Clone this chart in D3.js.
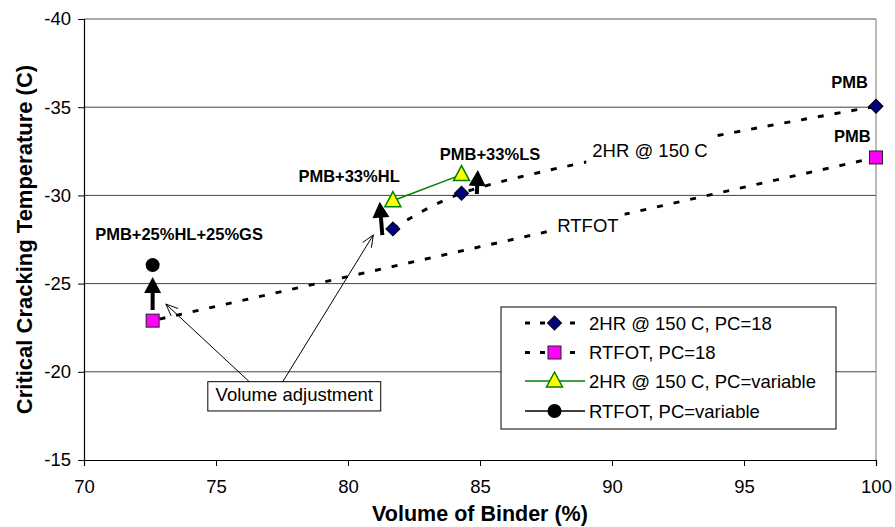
<!DOCTYPE html>
<html>
<head>
<meta charset="utf-8">
<script src="https://cdn.jsdelivr.net/npm/d3@7"></script>
<style>
  body { margin: 0; background: #fff; }
  svg { font-family: Arial, "Liberation Sans", sans-serif; }
</style>
</head>
<body>
<div id="chart"></div>
<script>
// values
const xTicks = [70, 75, 80, 85, 90, 95, 100];
const yTicks = [-40, -35, -30, -25, -20, -15];

// 2HR @ 150 C, PC=18
const hrX = [81.7, 84.3, 100];
const hrY = [-28.1, -30.12, -35.05];
// RTFOT, PC=18
const rtX = [72.6, 100];
const rtY = [-22.9, -32.15];
// 2HR @ 150 C, PC=variable
const hrVarX = [81.7, 84.3];
const hrVarY = [-29.7, -31.18];
// RTFOT, PC=variable
const rtVarX = [72.6];
const rtVarY = [-26.05];

const seriesNames = ["2HR @ 150 C, PC=18", "RTFOT, PC=18", "2HR @ 150 C, PC=variable", "RTFOT, PC=variable"];

// point labels (data coords)
const labelText = ["PMB+25%HL+25%GS", "PMB+33%HL", "PMB+33%LS", "PMB", "PMB"];
const labelX = [73.6, 80.04, 85.38, 99.0, 99.1];
const labelY = [-27.47, -30.78, -32.0, -36.09, -33.04];

// line labels
const lineLabelText = ["2HR @ 150 C", "RTFOT"];
const lineLabelX = [91.44, 89.09];
const lineLabelY = [-32.2, -27.94];

// block arrows (volume adjustment), from -> to
const arrowX0 = [72.6, 81.3, 84.88];
const arrowY0 = [-23.5, -27.75, -30.08];
const arrowX1 = [72.6, 81.2, 84.92];
const arrowY1 = [-25.37, -29.64, -31.44];

// callout pointers
const calloutX0 = [76.26, 77.53];
const calloutX1 = [73.1, 80.96];
const calloutY1 = [-23.84, -27.76];

const svg = d3.select("#chart").append("svg")
    .attr("width", 895)
    .attr("height", 527);

const margin = {top: 19, right: 19, bottom: 67, left: 84},
    width = 895 - margin.left - margin.right,
    height = 527 - margin.top - margin.bottom;

const x = d3.scaleLinear().domain([70, 100]).range([0, width]);
const y = d3.scaleLinear().domain([-40, -15]).range([0, height]);

const g = svg.append("g")
    .attr("transform", "translate(" + margin.left + "," + margin.top + ")");

// gridlines
g.selectAll(".grid")
    .data(yTicks.filter(d => d > -40 && d < -15))
    .enter().append("line")
    .attr("x1", 0).attr("x2", width)
    .attr("y1", d => y(d)).attr("y2", d => y(d))
    .attr("stroke", "#444").attr("stroke-width", 1);

// top and right border
g.append("line").attr("x1", 0).attr("x2", width).attr("y1", 0).attr("y2", 0)
    .attr("stroke", "#555");
g.append("line").attr("x1", width).attr("x2", width).attr("y1", 0).attr("y2", height)
    .attr("stroke", "#777");

// axes
const xAxis = g.append("g")
    .attr("transform", "translate(0," + height + ")")
    .call(d3.axisBottom(x).tickValues(xTicks).tickSize(6).tickPadding(14).tickFormat(d3.format("d")));
const yAxis = g.append("g")
    .call(d3.axisLeft(y).tickValues(yTicks).tickSize(6).tickPadding(7).tickFormat(d => d));

[xAxis, yAxis].forEach(a => {
    a.select(".domain").attr("stroke", "#000").attr("stroke-width", 1.2);
    a.selectAll(".tick line").attr("stroke", "#000");
    a.selectAll("text").style("font-size", "18.5px").attr("fill", "#000")
        .style("font-family", "Arial, 'Liberation Sans', sans-serif");
});

// axis titles
svg.append("text")
    .attr("x", margin.left + width / 2)
    .attr("y", 521)
    .attr("text-anchor", "middle")
    .style("font-size", "21.5px")
    .style("font-weight", "bold")
    .text("Volume of Binder (%)");

svg.append("text")
    .attr("transform", "rotate(-90)")
    .attr("x", -(margin.top + height / 2))
    .attr("y", 32)
    .attr("text-anchor", "middle")
    .style("font-size", "22px")
    .style("font-weight", "bold")
    .text("Critical Cracking Temperature (C)");

// series lines
const toPts = (xs, ys) => xs.map((v, i) => [v, ys[i]]);
const line = d3.line().x(d => x(d[0])).y(d => y(d[1]));

g.append("path")
    .datum(toPts(hrX, hrY))
    .attr("d", line.curve(d3.curveCatmullRom))
    .attr("fill", "none").attr("stroke", "#000")
    .attr("stroke-width", 2.9).attr("stroke-dasharray", "6,11");

g.append("path")
    .datum(toPts(rtX, rtY))
    .attr("d", line.curve(d3.curveLinear))
    .attr("fill", "none").attr("stroke", "#000")
    .attr("stroke-width", 2.9).attr("stroke-dasharray", "6,11")
    .attr("stroke-dashoffset", -7);

g.append("path")
    .datum(toPts(hrVarX, hrVarY))
    .attr("d", line.curve(d3.curveLinear))
    .attr("fill", "none").attr("stroke", "#008000").attr("stroke-width", 1.5);

// line labels with white backing
lineLabelText.forEach((t, i) => {
    const txt = g.append("text")
        .attr("x", x(lineLabelX[i]))
        .attr("y", y(lineLabelY[i]))
        .attr("text-anchor", "middle")
        .style("font-size", "18.5px")
        .text(t);
    const bb = txt.node().getBBox();
    g.insert("rect", function() { return txt.node(); })
        .attr("x", bb.x - 6).attr("y", bb.y - (i === 0 ? 6 : 2))
        .attr("width", bb.width + 12).attr("height", bb.height + (i === 0 ? 12 : 4))
        .attr("fill", "#fff");
});

// point labels
g.selectAll(".pt-label")
    .data(labelText)
    .enter().append("text")
    .attr("class", "pt-label")
    .attr("x", (d, i) => x(labelX[i]))
    .attr("y", (d, i) => y(labelY[i]))
    .attr("text-anchor", "middle")
    .style("font-size", "16.5px")
    .style("font-weight", "bold")
    .text(d => d);

// block arrows
function blockArrow(x0, y0, x1, y1) {
    const dx = x1 - x0, dy = y1 - y0;
    const len = Math.sqrt(dx * dx + dy * dy);
    const ux = dx / len, uy = dy / len, px = -uy, py = ux;
    const hl = 16, hw = 8.5, sw = 2;
    const bx = x1 - ux * hl, by = y1 - uy * hl;
    const pts = [
        [x0 + px * sw, y0 + py * sw], [bx + px * sw, by + py * sw], [bx + px * hw, by + py * hw],
        [x1, y1], [bx - px * hw, by - py * hw], [bx - px * sw, by - py * sw], [x0 - px * sw, y0 - py * sw]
    ];
    return "M" + pts.map(p => p.join(",")).join("L") + "Z";
}
arrowX0.forEach((v, i) => {
    g.append("path")
        .attr("d", blockArrow(x(v), y(arrowY0[i]), x(arrowX1[i]), y(arrowY1[i])))
        .attr("fill", "#000");
});

// markers
function drawDiamond(sel, cx, cy) {
    sel.append("path").attr("d", d3.symbol().type(d3.symbolSquare).size(98)())
        .attr("transform", "translate(" + cx + "," + cy + ") rotate(45)")
        .attr("fill", "#000080").attr("stroke", "#000").attr("stroke-width", 1);
}
function drawSquare(sel, cx, cy) {
    sel.append("rect").attr("x", cx - 6.5).attr("y", cy - 6.5)
        .attr("width", 13).attr("height", 13)
        .attr("fill", "#ff00ff").attr("stroke", "#222").attr("stroke-width", 1);
}
function drawTriangle(sel, cx, cy) {
    sel.append("path").attr("d", "M0,-9L8,6L-8,6Z")
        .attr("transform", "translate(" + cx + "," + cy + ")")
        .attr("fill", "#ffff00").attr("stroke", "#008000").attr("stroke-width", 1.5);
}
function drawCircle(sel, cx, cy) {
    sel.append("circle").attr("cx", cx).attr("cy", cy).attr("r", 7).attr("fill", "#000");
}

hrX.forEach((v, i) => drawDiamond(g, x(v), y(hrY[i])));
rtX.forEach((v, i) => drawSquare(g, x(v), y(rtY[i])));
hrVarX.forEach((v, i) => drawTriangle(g, x(v), y(hrVarY[i])));
rtVarX.forEach((v, i) => drawCircle(g, x(v), y(rtVarY[i])));

// callout box
const boxX0 = 74.69, boxX1 = 81.24, boxY0 = -19.44, boxY1 = -17.78;
g.append("rect")
    .attr("x", x(boxX0)).attr("y", y(boxY0))
    .attr("width", x(boxX1) - x(boxX0)).attr("height", y(boxY1) - y(boxY0))
    .attr("fill", "#fff").attr("stroke", "#000").attr("stroke-width", 1);
g.append("text")
    .attr("x", (x(boxX0) + x(boxX1)) / 2)
    .attr("y", y(boxY0) + 19)
    .attr("text-anchor", "middle")
    .style("font-size", "18.5px")
    .text("Volume adjustment");

calloutX0.forEach((v, i) => {
    const x0 = x(v), y0 = y(boxY0), x1 = x(calloutX1[i]), y1 = y(calloutY1[i]);
    g.append("line").attr("x1", x0).attr("y1", y0).attr("x2", x1).attr("y2", y1)
        .attr("stroke", "#000").attr("stroke-width", 1);
    const ang = Math.atan2(y0 - y1, x0 - x1), hl = 13, ha = 0.4;
    g.append("path")
        .attr("d", "M" + (x1 + hl * Math.cos(ang - ha)) + "," + (y1 + hl * Math.sin(ang - ha)) +
            "L" + x1 + "," + y1 +
            "L" + (x1 + hl * Math.cos(ang + ha)) + "," + (y1 + hl * Math.sin(ang + ha)))
        .attr("fill", "none").attr("stroke", "#000").attr("stroke-width", 1);
});

// legend
const legend = svg.append("g").attr("transform", "translate(501,307)");
legend.append("rect")
    .attr("width", 335).attr("height", 122)
    .attr("fill", "#fff").attr("stroke", "#000").attr("stroke-width", 1);

const rowY = [16, 45.5, 74, 104];
seriesNames.forEach((name, i) => {
    const row = legend.append("g").attr("transform", "translate(0," + rowY[i] + ")");
    const ln = row.append("line").attr("x1", 24).attr("x2", 84).attr("y1", 0).attr("y2", 0);
    if (i < 2) {
        ln.attr("stroke", "#000").attr("stroke-width", 2.9).attr("stroke-dasharray", "5,10");
    } else {
        ln.attr("stroke", i === 2 ? "#008000" : "#000").attr("stroke-width", 1.3);
    }
    if (i === 0) drawDiamond(row, 53.5, 0);
    if (i === 1) drawSquare(row, 53.5, 0);
    if (i === 2) drawTriangle(row, 53.5, 0);
    if (i === 3) drawCircle(row, 53.5, 0);
    row.append("text")
        .attr("x", 88).attr("y", 6.5)
        .style("font-size", "18.5px")
        .text(name);
});
</script>
</body>
</html>
